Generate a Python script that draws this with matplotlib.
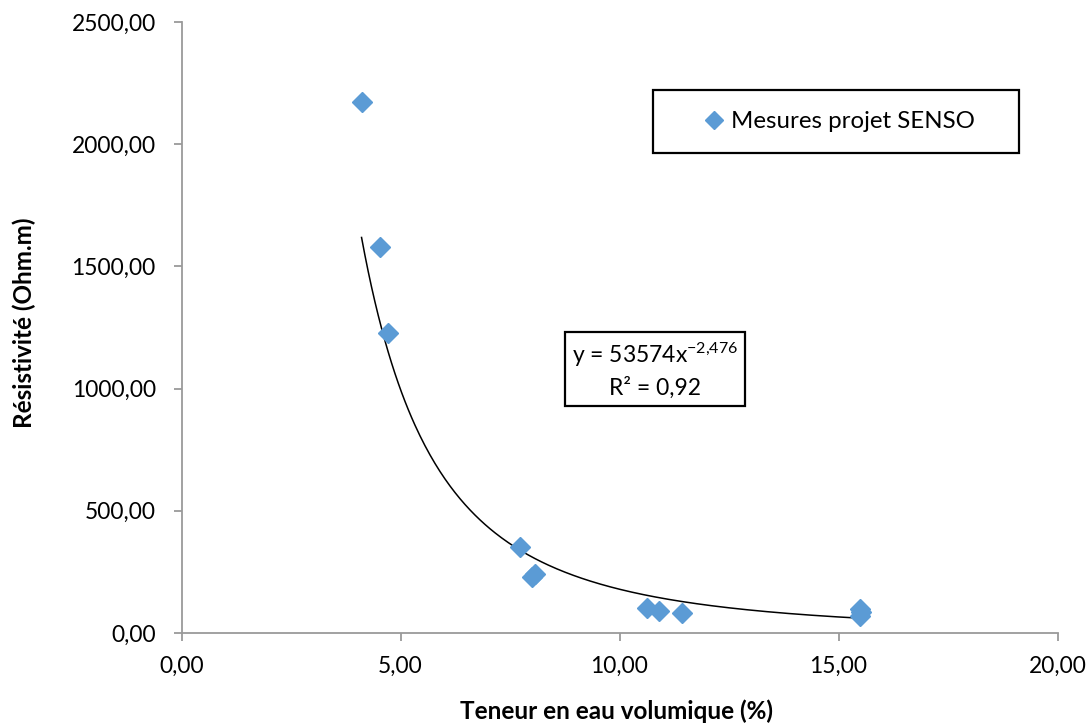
import matplotlib
matplotlib.use("Agg")
import matplotlib.pyplot as plt
import numpy as np
from matplotlib.lines import Line2D
from matplotlib.patches import Rectangle

plt.rcParams['font.family'] = ['Lato', 'DejaVu Sans']
plt.rcParams['mathtext.default'] = 'regular'

# data
teneur = [4.11, 4.54, 4.71, 7.73, 8.00, 8.08, 10.62, 10.90, 11.42, 15.50, 15.52, 15.50]
resist = [2171, 1581, 1228, 353, 230, 243, 101, 88, 82, 100, 84, 70]

# power fit shown on the chart
fit_a = 53574
fit_b = -2.476
fit_xmin, fit_xmax = 4.11, 15.5

xticks = [0, 5, 10, 15, 20]
yticks = [0, 500, 1000, 1500, 2000, 2500]

fig = plt.figure(figsize=(10.91, 7.24), dpi=100)
ax = fig.add_axes([0.1664, 0.1257, 0.8029, 0.8439])

xf = np.linspace(fit_xmin, fit_xmax, 300)
ax.plot(xf, fit_a * xf ** fit_b, color='black', lw=1.1, zorder=2)
ax.plot(teneur, resist, linestyle='none', marker='D', markersize=10,
        color='#5B9BD5', markeredgecolor='#5B9BD5', zorder=3)

ax.set_xlim(0, 20)
ax.set_ylim(0, 2500)
ax.set_xticks(xticks)
ax.set_yticks(yticks)
ax.set_xticklabels([f"{v:.2f}".replace('.', ',') for v in xticks])
ax.set_yticklabels([f"{v:.2f}".replace('.', ',') for v in yticks])

for s in ['top', 'right']:
    ax.spines[s].set_visible(False)
for s in ['left', 'bottom']:
    ax.spines[s].set_color('#9A9A9A')
    ax.spines[s].set_linewidth(1.3)
ax.tick_params(axis='both', direction='out', length=5.5, width=1.3, color='#9A9A9A',
               labelsize=16.4, labelcolor='black')
ax.tick_params(axis='x', pad=11)
ax.tick_params(axis='y', pad=13)

fig.text(616.5 / 1091, 5.3 / 724, 'Teneur en eau volumique (%)', fontsize=17.5,
         fontweight='bold', ha='center', va='baseline')
fig.text(24 / 1091, 1 - 322.5 / 724, 'Résistivité (Ohm.m)', fontsize=17.5,
         fontweight='bold', ha='center', va='center', rotation=90)

# legend
ax.add_patch(Rectangle((0.5385, 0.7851), 0.4170, 0.1036, transform=ax.transAxes,
                       fill=True, fc='white', ec='black', lw=1.6, clip_on=False, zorder=4))
handle = Line2D([], [], linestyle='none', marker='D', markersize=8.7, color='#5B9BD5')
leg = ax.legend([handle], ['Mesures projet SENSO'], loc='center',
                bbox_to_anchor=(0.7517, 0.8369), frameon=False, fontsize=17.3,
                handlelength=0.7, handletextpad=0.35, borderpad=0, borderaxespad=0)
leg.set_zorder(5)

# equation box
ax.add_patch(Rectangle((0.4381, 0.3715), 0.2047, 0.1211, transform=ax.transAxes,
                       fill=True, fc='white', ec='black', lw=1.6, clip_on=False, zorder=4))
ax.text(0.5404, 0.4419, 'y = 53574x$^{-2{,}476}$', transform=ax.transAxes,
        ha='center', va='baseline', fontsize=16.5, zorder=5)
ax.text(0.5404, 0.3895, 'R² = 0,92', transform=ax.transAxes,
        ha='center', va='baseline', fontsize=16.5, zorder=5)

fig.savefig('out.png', dpi=100)
